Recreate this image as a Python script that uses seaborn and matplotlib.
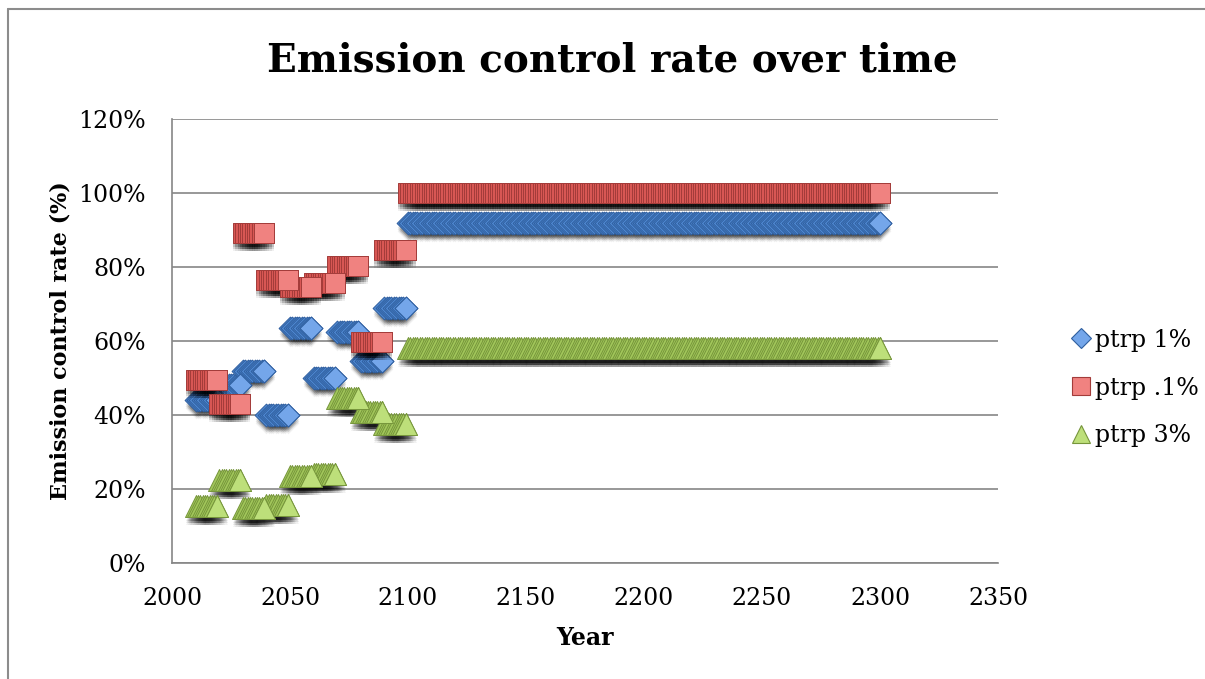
import numpy as np
import pandas as pd
import matplotlib
matplotlib.use("Agg")
import matplotlib.pyplot as plt
import seaborn as sns
from matplotlib.ticker import PercentFormatter
from matplotlib.transforms import offset_copy
from matplotlib.lines import Line2D

# Decade blocks: each value holds for ten consecutive years, then a flat tail
block_starts = [2010, 2020, 2030, 2040, 2050, 2060, 2070, 2080, 2090]
tail_years = (2100, 2300)

ptrp_1 = [44, 48, 52, 40, 63.5, 50, 62.5, 54.5, 69]      # %
ptrp_01 = [49.5, 43, 89.3, 76.5, 74.6, 75.8, 80.3, 59.6, 84.6]
ptrp_3 = [15.4, 22.4, 14.9, 15.7, 23.5, 24.1, 44.7, 40.9, 37.7]
tail_values = {"ptrp 1%": 92, "ptrp .1%": 100, "ptrp 3%": 58}

series_names = ["ptrp 1%", "ptrp .1%", "ptrp 3%"]
block_values = {"ptrp 1%": ptrp_1, "ptrp .1%": ptrp_01, "ptrp 3%": ptrp_3}

x_ticks = list(range(2000, 2351, 50))
y_ticks = list(range(0, 121, 20))


def yearly_frame(name):
    years, vals = [], []
    for start, v in zip(block_starts, block_values[name]):
        for yr in range(start, start + 10):
            years.append(yr)
            vals.append(v)
    for yr in range(tail_years[0], tail_years[1] + 1):
        years.append(yr)
        vals.append(tail_values[name])
    return pd.DataFrame({"year": years, "rate": vals, "series": name})


frames = {n: yearly_frame(n) for n in series_names}

style = {
    "ptrp 1%": dict(marker="D", s=135, face="#5089d2", edge="#2f5f9f",
                    light="#74a6ea"),
    "ptrp .1%": dict(marker="s", s=225, face="#d85754", edge="#a33c3a",
                     light="#f08280"),
    "ptrp 3%": dict(marker="^", s=250, face="#a2c75b", edge="#76953b",
                    light="#bddf7a"),
}

sns.set_style("white")
plt.rcParams["font.family"] = ["DejaVu Serif"]
plt.rcParams["text.color"] = "black"
plt.rcParams["xtick.color"] = "black"
plt.rcParams["ytick.color"] = "black"
plt.rcParams["axes.labelcolor"] = "black"

fig = plt.figure(figsize=(12.05, 6.79), dpi=100)
ax = fig.add_axes([172 / 1205, 1 - 563 / 679, 826 / 1205, 444 / 679])

grey = "#868686"
ax.set_xlim(2000, 2350)
ax.set_ylim(0, 120)
ax.set_xticks(x_ticks)
ax.set_yticks(y_ticks)
ax.yaxis.set_major_formatter(PercentFormatter(100, decimals=0))
ax.grid(False)
ax.yaxis.grid(True, color=grey, lw=1.2)
ax.set_axisbelow(True)
for side in ("top", "right"):
    ax.spines[side].set_visible(False)
for side in ("left", "bottom"):
    ax.spines[side].set_color(grey)
    ax.spines[side].set_linewidth(1.2)
ax.tick_params(axis="both", length=0, labelsize=17, colors="black")
ax.tick_params(axis="y", pad=19)
ax.tick_params(axis="x", pad=17)

for i, name in enumerate(series_names):
    st = style[name]
    df = frames[name]
    z = 2 + 3 * i
    # soft drop shadow under each run of markers
    for dy, a in ((-4, 0.10), (-6, 0.10), (-8, 0.06)):
        tf = offset_copy(ax.transData, fig=fig, x=0, y=dy, units="dots")
        sns.scatterplot(data=df, x="year", y="rate", ax=ax,
                        marker=st["marker"], s=st["s"] * 0.9, color="black",
                        alpha=a, linewidth=0, transform=tf, legend=False,
                        zorder=z)
    sns.scatterplot(data=df, x="year", y="rate", ax=ax, marker=st["marker"],
                    s=st["s"], color=st["face"], edgecolor=st["edge"],
                    linewidth=0.7, legend=False, zorder=z + 1)
    # the last marker of each run sits on top and shows its lighter face
    last = df[df["rate"].ne(df["rate"].shift(-1))]
    sns.scatterplot(data=last, x="year", y="rate", ax=ax, marker=st["marker"],
                    s=st["s"], color=st["light"], edgecolor=st["edge"],
                    linewidth=0.7, legend=False, zorder=z + 2)

ax.set_xlabel("Year", fontsize=17, fontweight="bold", labelpad=12)
ax.set_ylabel("Emission control rate (%)", fontsize=16, fontweight="bold",
              labelpad=5)

fig.text(612 / 1205, 1 - 61 / 679, "Emission control rate over time",
         ha="center", va="center", fontsize=28, fontweight="bold")

handles = [
    Line2D([], [], ls="none", marker=style[n]["marker"],
           markersize=(10.5 if n == "ptrp 1%" else 13),
           markerfacecolor=style[n]["light"], markeredgecolor=style[n]["edge"],
           markeredgewidth=0.8)
    for n in series_names
]
leg = ax.legend(handles, series_names, loc="center left",
                bbox_to_anchor=(1064 / 1205, 1 - 388 / 679),
                bbox_transform=fig.transFigure, frameon=False, fontsize=17,
                handlelength=0.6, handletextpad=0.3, labelspacing=1.05,
                borderaxespad=0)
leg.set_zorder(20)

# outer chart frame
fig.add_artist(Line2D([8 / 1205, 8 / 1205], [0, 1 - 9 / 679],
                      transform=fig.transFigure, color="#8c8c8c", lw=1.5))
fig.add_artist(Line2D([8 / 1205, 1], [1 - 9 / 679, 1 - 9 / 679],
                      transform=fig.transFigure, color="#8c8c8c", lw=1.5))

fig.savefig("out.png", dpi=100)
